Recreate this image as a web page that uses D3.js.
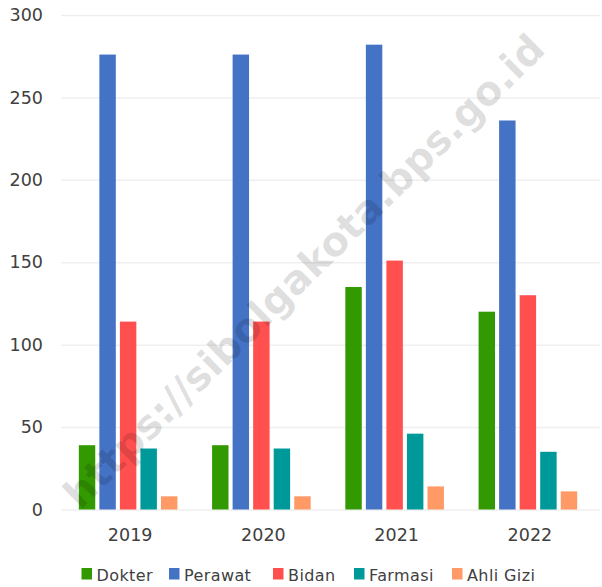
<!DOCTYPE html>
<html>
<head>
<meta charset="utf-8">
<script src="https://cdn.jsdelivr.net/npm/d3@7"></script>
<style>
  html, body { margin: 0; padding: 0; background: #fff; }
  svg { display: block; }
</style>
</head>
<body>
<svg id="chart" width="602" height="587"></svg>
<script>
const years = ["2019", "2020", "2021", "2022"];
const seriesNames = ["Dokter", "Perawat", "Bidan", "Farmasi", "Ahli Gizi"];
const dokter  = [39, 39, 135, 120];
const perawat = [276, 276, 282, 236];
const bidan   = [114, 114, 151, 130];
const farmasi = [37, 37, 46, 35];
const ahliGizi = [8, 8, 14, 11];
const yTicks = [0, 50, 100, 150, 200, 250, 300];
const colors = ["#339900", "#4472c4", "#ff4f4f", "#009999", "#ff9966"];
const watermark = "https://sibolgakota.bps.go.id";

const seriesValues = [dokter, perawat, bidan, farmasi, ahliGizi];

const svg = d3.select("#chart");
const font = "'DejaVu Sans', sans-serif";
const textColor = "#404040";

const x0 = d3.scaleBand().domain(years).range([61.5, 594.5]).padding(0);
const bw = x0.bandwidth();
const x1 = d3.scaleBand().domain(seriesNames).range([bw * 0.13, bw * 0.87]).paddingInner(0.2).paddingOuter(0);
const y = d3.scaleLinear().domain([0, 300]).range([509.5, 15]);
const color = d3.scaleOrdinal().domain(seriesNames).range(colors);

// gridlines + y labels
const yAxis = d3.axisLeft(y).tickValues(yTicks).tickSize(-(600 - 61)).tickPadding(18);
const gy = svg.append("g").attr("transform", "translate(61,0)").call(yAxis);
gy.select(".domain").remove();
gy.selectAll(".tick line").attr("stroke", "#efefef").attr("stroke-width", 1.5);
gy.selectAll(".tick text")
  .attr("font-family", font).attr("font-size", 17.5).attr("fill", textColor)
  .attr("x", -18);

// bars
const groups = svg.append("g").selectAll("g")
  .data(years).join("g")
  .attr("transform", d => `translate(${x0(d)},0)`);

groups.selectAll("rect")
  .data((yr, i) => seriesNames.map((s, j) => ({ s, v: seriesValues[j][i] })))
  .join("rect")
  .attr("x", d => x1(d.s))
  .attr("width", x1.bandwidth())
  .attr("y", d => y(d.v))
  .attr("height", d => y(0) - y(d.v))
  .attr("fill", d => color(d.s));

// x axis labels
const xAxis = d3.axisBottom(x0).tickSize(0).tickPadding(0);
const gx = svg.append("g").attr("transform", "translate(0,528)").call(xAxis);
gx.select(".domain").remove();
gx.selectAll(".tick text")
  .attr("font-family", font).attr("font-size", 17.5).attr("fill", textColor)
  .attr("dy", "0.72em").attr("dx", 2);

// legend
const legendX = [81.5, 169, 273, 354, 452];
const legend = svg.append("g").selectAll("g")
  .data(seriesNames).join("g")
  .attr("transform", (d, i) => `translate(${legendX[i]},568)`);
legend.append("rect").attr("width", 10.5).attr("height", 11.5).attr("fill", d => color(d));
legend.append("text")
  .attr("x", 15).attr("y", 12.5)
  .attr("font-family", font).attr("font-size", 16).attr("fill", textColor)
  .attr("letter-spacing", 0.4)
  .text(d => d);

// watermark
svg.append("text")
  .attr("transform", "translate(304,271) rotate(-44.5)")
  .attr("text-anchor", "middle")
  .attr("dominant-baseline", "central")
  .attr("font-family", "'DejaVu Sans', sans-serif")
  .attr("font-weight", "bold")
  .attr("font-size", 40)
  .attr("textLength", 655)
  .attr("lengthAdjust", "spacingAndGlyphs")
  .attr("fill", "#000")
  .attr("fill-opacity", 0.13)
  .text(watermark);
</script>
</body>
</html>
